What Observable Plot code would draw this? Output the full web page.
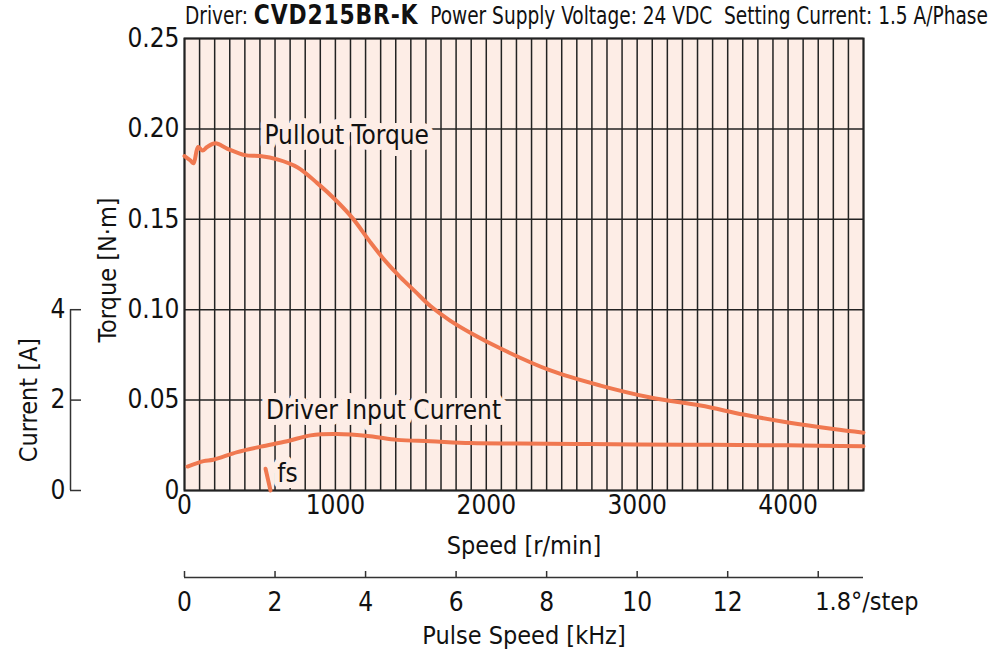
<!DOCTYPE html>
<html>
<head>
<meta charset="utf-8">
<script src="https://cdn.jsdelivr.net/npm/d3@7"></script>
<script src="https://cdn.jsdelivr.net/npm/@observablehq/plot@0.6"></script>
<style>
  body { margin: 0; background: #fff; }
  #title { height: 30px; position: relative; color: #111; white-space: nowrap; overflow: visible;
           font-family: "Liberation Sans Narrow", "DejaVu Sans Condensed", sans-serif; font-size: 25px; }
  #title .t { position: absolute; left: 185px; top: 0px; line-height: 30px;
              transform: scaleX(0.825); transform-origin: 0 50%; }
  #title b { font-family: "DejaVu Sans", sans-serif; font-weight: bold; font-size: 26.5px; letter-spacing: 1px; }
</style>
</head>
<body>
<div id="title"><span class="t">Driver: <b>CVD215BR-K</b>&nbsp; Power Supply Voltage: 24 VDC&nbsp; Setting Current: 1.5 A/Phase</span></div>
<div id="chart"></div>
<script>
// ---- data ----
const torqueSpeed = [0, 40, 60, 90, 120, 150, 205, 285, 400, 500, 620, 750, 880, 1010, 1115, 1230, 1330, 1430, 1530, 1630, 1760, 1900, 2095, 2425, 2757, 3088, 3420, 3705, 4000, 4300, 4500];
const torqueValue = [0.185, 0.1825, 0.181, 0.190, 0.188, 0.190, 0.192, 0.189, 0.1855, 0.185, 0.183, 0.1787, 0.170, 0.160, 0.1505, 0.1375, 0.127, 0.118, 0.110, 0.102, 0.094, 0.087, 0.0785, 0.0664, 0.058, 0.0514, 0.047, 0.042, 0.0376, 0.034, 0.032];

const currentSpeed = [20, 126, 190, 350, 505, 680, 835, 1010, 1230, 1410, 1630, 1895, 2225, 2600, 3000, 3500, 4000, 4500];
const currentValue = [0.53, 0.65, 0.68, 0.85, 0.97, 1.09, 1.22, 1.25, 1.20, 1.12, 1.09, 1.05, 1.04, 1.03, 1.02, 1.01, 1.00, 0.98];

const fsSpeed = [537, 570];
const fsTorque = [0.012, 0];

const speedTicks = [0, 1000, 2000, 3000, 4000];
const torqueTicks = [0, 0.05, 0.10, 0.15, 0.20, 0.25];
const currentTicks = [0, 2, 4];
const pulseTicks = [0, 2, 4, 6, 8, 10, 12, 14];
const gridSpeed = d3.range(0, 4501, 100);

const labels = [
  {text: "Pullout Torque", speed: 1075, torque: 0.196},
  {text: "Driver Input Current", speed: 1319, torque: 0.0442},
  {text: "fs", speed: 683, torque: 0.0094}
];

// ---- conversions ----
const A2T = 0.025;          // 1 A on the current axis = 0.025 N·m on the torque axis
const RPM_PER_KHZ = 300;    // 1.8°/step: 1 kHz = 300 r/min

const FONT = '"Liberation Sans Narrow", "DejaVu Sans Condensed", sans-serif';
const BG = "#fdede6";
const LINE = "#f07850";
const INK = "#222";

const torqueData = torqueSpeed.map((s, i) => ({s, v: torqueValue[i]}));
const currentData = currentSpeed.map((s, i) => ({s, v: currentValue[i] * A2T}));
const fsData = fsSpeed.map((s, i) => ({s, v: fsTorque[i]}));

const chart = Plot.plot({
  width: 1000,
  height: 620,
  marginTop: 8,
  marginLeft: 184,
  marginRight: 137,
  marginBottom: 160,
  style: {fontFamily: FONT, fontSize: "26px", color: "#111", background: "transparent", overflow: "visible"},
  x: {domain: [0, 4500], label: null},
  y: {domain: [0, 0.25], label: null},
  marks: [
    Plot.frame({fill: BG, stroke: null}),
    Plot.ruleX(gridSpeed, {stroke: INK, strokeWidth: 1.5}),
    Plot.ruleY(torqueTicks, {stroke: INK, strokeWidth: 1.5}),
    Plot.frame({stroke: INK, strokeWidth: 2}),
    // main axes
    Plot.axisX(speedTicks, {tickSize: 0, tickPadding: 5, tickFormat: d => String(d), label: null}),
    Plot.axisY(torqueTicks, {tickSize: 0, tickPadding: 5, tickFormat: d => d === 0 ? "0" : d.toFixed(2), label: null}),
    // curves
    Plot.line(torqueData, {x: "s", y: "v", stroke: LINE, strokeWidth: 4, curve: "catmull-rom"}),
    Plot.line(currentData, {x: "s", y: "v", stroke: LINE, strokeWidth: 4, curve: "catmull-rom"}),
    Plot.line(fsData, {x: "s", y: "v", stroke: LINE, strokeWidth: 4}),
    Plot.text(labels, {x: "speed", y: "torque", text: "text", fill: "#111", stroke: BG, strokeWidth: 12, strokeLinejoin: "round"}),
    // current axis
    Plot.ruleX([0], {y1: 0, y2: currentTicks[currentTicks.length - 1] * A2T, dx: -114, stroke: "#333", strokeWidth: 1.5}),
    Plot.axisY(currentTicks.map(a => a * A2T), {anchor: "left", tickSize: -11, dx: -114, tickPadding: 16, stroke: "#333", strokeWidth: 1.5, tickFormat: d => String(Math.round(d / A2T)), label: null}),
    Plot.text(["Current [A]"], {x: 0, y: 2 * A2T, dx: -156, dy: 0, rotate: -90, fill: "#111", fontSize: 25}),
    Plot.text(["Torque [N·m]"], {x: 0, y: 0.122, dx: -77, rotate: -90, fill: "#111", fontSize: 25}),
    // speed label
    Plot.text(["Speed [r/min]"], {x: 2250, y: 0, dy: 55, fill: "#111", fontSize: 25}),
    // pulse speed axis
    Plot.ruleY([0], {x1: 0, x2: 15 * RPM_PER_KHZ, dy: 87, stroke: "#333", strokeWidth: 1.5}),
    Plot.axisX(pulseTicks.map(k => k * RPM_PER_KHZ), {anchor: "bottom", tickSize: -6, dy: 87, tickPadding: 21, stroke: "#333", strokeWidth: 1.5, tickFormat: d => d === 14 * RPM_PER_KHZ ? "" : String(d / RPM_PER_KHZ), label: null}),
    Plot.text(["1.8°/step"], {x: 14 * RPM_PER_KHZ, y: 0, dx: -3, dy: 111, textAnchor: "start", fill: "#111", fontSize: 25}),
    Plot.text(["Pulse Speed [kHz]"], {x: 2250, y: 0, dy: 145, fill: "#111", fontSize: 25})
  ]
});
document.getElementById("chart").appendChild(chart);
</script>
</body>
</html>
